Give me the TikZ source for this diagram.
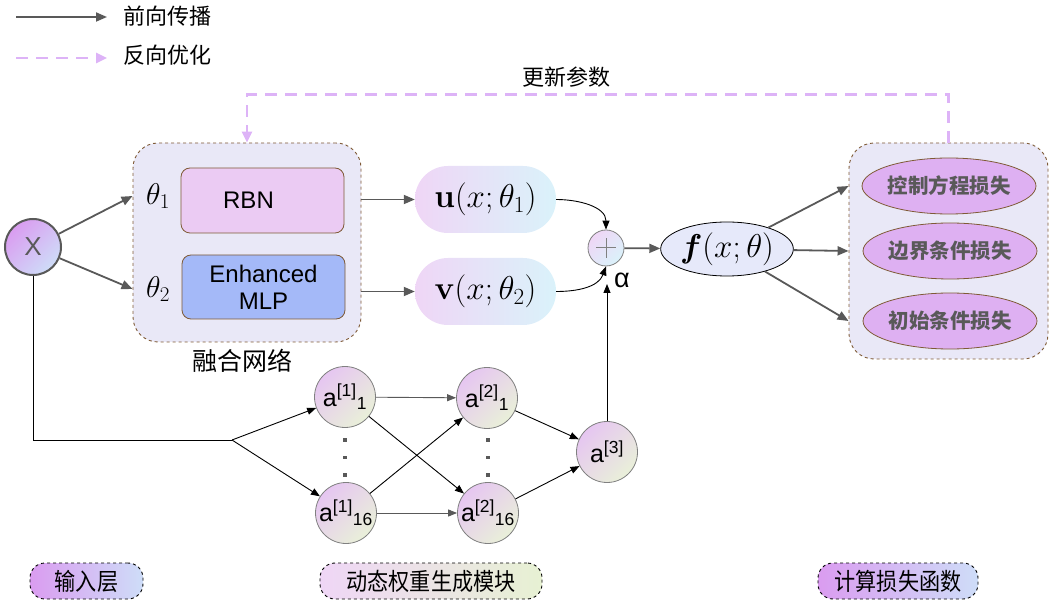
\RequirePackage{fix-cm}
\documentclass[tikz,border=0pt]{standalone}
\usepackage[no-math]{fontspec}
\setmainfont{Liberation Sans}
\newfontfamily\cjk{Noto Sans CJK SC}
\newfontfamily\cjknarrow[FakeStretch=0.88]{Noto Sans CJK SC}
\usepackage{bm}
\usetikzlibrary{positioning, shapes.geometric, arrows.meta}
\definecolor{arrgray}{HTML}{595959}
\definecolor{lilac}{HTML}{DDB3F7}
\definecolor{boxbrown}{HTML}{7F5A36}
\definecolor{boxfill}{HTML}{E9E8F7}
\definecolor{rbnfill}{HTML}{EBCBF3}
\definecolor{mlpfill}{HTML}{A4B9F8}
\definecolor{lossfill}{HTML}{DEB0F2}
\definecolor{ffill}{HTML}{E6E9FA}
\definecolor{violetl}{HTML}{DA9CF0}
\definecolor{bluel}{HTML}{CEDDF8}
\definecolor{pinkl}{HTML}{EFD6F6}
\definecolor{cyanl}{HTML}{DAF2FA}
\definecolor{greenl}{HTML}{E7F1D3}
\definecolor{neurona}{HTML}{E6C6F1}
\definecolor{neuronb}{HTML}{E9F0D9}

\begin{document}
\begin{tikzpicture}[x=1pt, y=-1pt,
	fwd/.style = {draw=arrgray, line width=1.8pt, -{Triangle[length=11pt,width=9pt]}},
	bwd/.style = {draw=lilac, line width=2.5pt, dash pattern=on 12pt off 8pt, -{Triangle[length=11pt,width=10pt]}},
	link/.style = {draw=black, line width=0.9pt, -{Triangle[length=9pt,width=7pt]}},
	lbl/.style = {font=\cjk\fontsize{22}{26}\selectfont, inner sep=0pt},
	group/.style = {draw=boxbrown, dashed, line width=0.9pt, fill=boxfill, rounded corners=25pt},
	net/.style = {draw=boxbrown, line width=0.8pt, rounded corners=9pt, minimum width=163pt, minimum height=65pt, align=center, font=\fontsize{24}{27}\selectfont, inner sep=0pt},
	outp/.style = {rounded corners=33pt, minimum width=141pt, minimum height=67pt, left color=pinkl, right color=cyanl, font=\fontsize{33}{38}\selectfont, inner sep=0pt},
	loss/.style = {ellipse, draw=boxbrown, line width=0.8pt, fill=lossfill, minimum width=158pt, minimum height=56pt, inner sep=0pt, text=arrgray, font=\cjk\bfseries\fontsize{20.5}{24}\selectfont},
	neuron/.style = {circle, draw=gray, line width=0.8pt, minimum size=61pt, inner sep=0pt, top color=neurona, bottom color=neuronb, shading angle=45, font=\fontsize{25}{28}\selectfont},
	tag/.style = {draw=black, dashed, line width=0.9pt, rounded corners=15pt, minimum height=36pt, font=\cjknarrow\fontsize{24}{28}\selectfont, inner sep=0pt}]
	\useasboundingbox (0,0) rectangle (1052,609);

	\coordinate (fa) at (16,17);
	\coordinate (fb) at (107,17);
	\coordinate (ba) at (16,58);
	\coordinate (bb) at (107,58);
	\draw[fwd] (fa) -- (fb);
	\draw[bwd] (ba) -- (bb);
	\node[lbl, anchor=west] (fwdtxt) at (123,16) {前向传播};
	\node[lbl, anchor=west] (bwdtxt) at (123,55) {反向优化};

	\node[circle, draw=arrgray, line width=2pt, minimum size=56pt, top color=violetl, bottom color=bluel, shading angle=45, text=arrgray, font=\fontsize{26}{30}\selectfont] (X) at (33,247) {X};

	\node[group, minimum width=228pt, minimum height=199pt] (fusion) at (247,242.5) {};
	\node[net, fill=rbnfill] (rbn) at (262.5,200.5) {RBN\hspace*{28pt}};
	\node[net, fill=mlpfill, minimum height=64pt] (mlp) at (263.5,287) {Enhanced\\MLP};
	\node[font=\fontsize{30}{34}\selectfont] (th1) at (158,196) {$\theta_1$};
	\node[font=\fontsize{30}{34}\selectfont] (th2) at (158,289) {$\theta_2$};
	\node[lbl, font=\cjk\fontsize{25}{30}\selectfont] (fusiontxt) at (242,361) {融合网络};

	\draw[fwd] (X) -- (fusion.west |- th1);
	\draw[fwd] (X) -- (fusion.west |- th2);

	\node[outp] (u) at (485.5,199.5) {$\mathbf{u}(x;\theta_1)$};
	\node[outp] (v) at (485.5,291.5) {$\mathbf{v}(x;\theta_2)$};
	\draw[fwd] (fusion.east |- u) -- (u);
	\draw[fwd] (fusion.east |- v) -- (v);

	\node[circle, draw=gray, line width=0.8pt, minimum size=36pt, top color=pinkl, bottom color=cyanl, shading angle=45] (sum) at (606,248) {};
	\draw[gray, line width=1pt] ([xshift=-10pt]sum.center) -- ([xshift=10pt]sum.center);
	\draw[gray, line width=1pt] ([yshift=-10pt]sum.center) -- ([yshift=10pt]sum.center);
	\draw[link] (u.east) to[out=0, in=90] (sum.north);
	\draw[link] (v.east) to[out=0, in=250] (sum.south);
	\node[font=\fontsize{27}{30}\selectfont, inner sep=0pt] (alpha) at (622,280) {α};

	\node[ellipse, draw=black, line width=0.8pt, fill=ffill, minimum width=130pt, minimum height=54pt, inner sep=0pt, font=\fontsize{33}{38}\selectfont] (f) at (727,249) {$\bm{f}(x;\theta)$};
	\draw[fwd] (sum) -- (f);

	\node[group, minimum width=199pt, minimum height=216pt] (lossbox) at (948.5,251) {};
	\node[loss] (l1) at (949,186) {控制方程损失};
	\node[loss] (l2) at (950,251) {边界条件损失};
	\node[loss] (l3) at (950,321) {初始条件损失};
	\draw[fwd] (f) -- (lossbox.west |- l1);
	\draw[fwd] (f) -- (lossbox.west |- l2);
	\draw[fwd] (f) -- (lossbox.west |- l3);

	\draw[bwd] (lossbox.north) -- ++(0,-48) -| (fusion.north);
	\node[lbl] (updtxt) at (566,77) {更新参数};

	\node[neuron] (a11) at (345,397) {a\textsuperscript{[1]}\textsubscript{1}};
	\node[neuron] (a116) at (346,513) {a\textsuperscript{[1]}\textsubscript{16}};
	\node[neuron] (a21) at (487,398) {a\textsuperscript{[2]}\textsubscript{1}};
	\node[neuron] (a216) at (488,513) {a\textsuperscript{[2]}\textsubscript{16}};
	\node[neuron] (a3) at (607,452) {a\textsuperscript{[3]}};
	\foreach \px in {345,488}
		\foreach \py in {440,457.5,475}
			\fill[arrgray] (\px-1.8,\py-1.8) rectangle (\px+1.8,\py+1.8);

	\coordinate (split) at (232,440);
	\draw[black, line width=0.9pt] (X.south) |- (split);
	\draw[link] (split) -- (a11);
	\draw[link] (split) -- (a116);
	\draw[link, draw=arrgray] (a11) -- (a21);
	\draw[link] (a11) -- (a216);
	\draw[link] (a116) -- (a21);
	\draw[link, draw=arrgray] (a116) -- (a216);
	\draw[link] (a21) -- (a3);
	\draw[link] (a216) -- (a3);
	\coordinate (sumin) at (607,284);
	\draw[link] (a3) -- (sumin);

	\node[tag, minimum width=113pt, left color=violetl, right color=bluel] (intag) at (86.5,581) {输入层};
	\node[tag, minimum width=222pt, left color=pinkl, right color=greenl] (dyntag) at (431,581) {动态权重生成模块};
	\node[tag, minimum width=160pt, left color=violetl, right color=bluel] (losstag) at (898,581) {计算损失函数};
\end{tikzpicture}
\end{document}
